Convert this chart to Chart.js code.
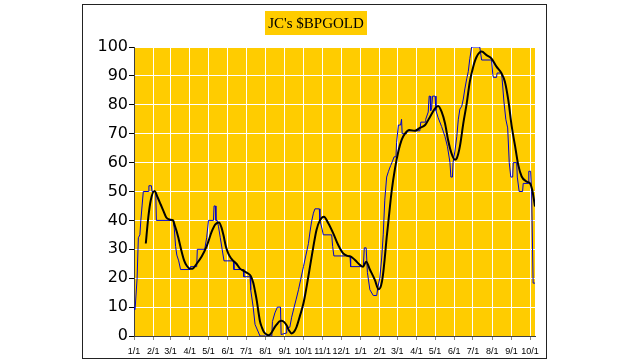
<!DOCTYPE html>
<html>
<head>
<meta charset="utf-8">
<script src="https://cdn.jsdelivr.net/npm/chart.js@4/dist/chart.umd.min.js"></script>
<style>
  html, body { margin: 0; padding: 0; background: #ffffff; }
  canvas { display: block; }
</style>
</head>
<body>
<canvas id="c" width="630" height="364"></canvas>
<script>
// ---- Title ----
const chartTitle = "JC's $BPGOLD";

// ---- X axis: month tick positions (days from first 1/1) and labels ----
const monthDays = [0, 31, 59, 90, 120, 151, 181, 212, 243, 273, 304, 334,
                   365, 396, 424, 455, 485, 516, 546, 577, 608, 638];
const monthLabels = ['1/1', '2/1', '3/1', '4/1', '5/1', '6/1', '7/1', '8/1', '9/1', '10/1', '11/1', '12/1',
                     '1/1', '2/1', '3/1', '4/1', '5/1', '6/1', '7/1', '8/1', '9/1', '10/1'];
const lastDay = 646;

// ---- Y axis ticks ----
const yTicks = [0, 10, 20, 30, 40, 50, 60, 70, 80, 90, 100];

// ---- Blue series: $BPGOLD (day, value) ----
const bpDays = [
  0, 1, 2, 3, 5, 7, 9.5, 11, 13, 15,
  23, 24, 28, 29, 35, 36, 63, 65, 67, 69,
  72, 75, 90, 91, 101, 102, 114, 117, 120, 128,
  129, 131, 132, 134, 136, 139, 142, 145, 160, 161,
  176, 177, 187, 188, 192, 195, 203, 222, 223, 227,
  231, 236, 237, 245, 246, 251, 254, 258, 261, 265,
  268.5, 273, 277, 281, 283.5, 286, 289, 291.5, 298.5, 299.5,
  303, 305, 318.5, 320, 322, 348, 349, 369.5, 371, 374,
  376, 380, 385.5, 391, 393, 396, 399, 401.5, 404, 407,
  410, 413.5, 416.5, 419, 422, 423, 426, 429.5, 431, 432,
  439, 440, 460.5, 462, 469, 470, 474, 475.5, 477, 478,
  479.5, 481, 485, 486.5, 490, 495.5, 501, 505, 509, 510.5,
  513, 514, 517, 520, 522.5, 525, 528, 530.5, 533, 536,
  538.5, 541, 544, 557, 560, 576, 578, 579, 584, 585,
  592, 593, 596, 599, 602, 604.5, 607, 610, 611, 616.5,
  617.5, 620.5, 626, 627, 635, 636, 639, 640.5, 643, 646
];
const bpValues = [
  10, 9, 10, 10, 20, 34, 35, 40, 45, 50,
  50, 52, 52, 50, 50, 40, 40, 37, 31, 28,
  26, 23, 23, 24, 24, 30, 30, 34, 40, 40,
  45, 45, 40, 40, 38, 34, 30, 26, 26, 23,
  23, 20.5, 20.5, 16, 10, 4, 0, 0, 5, 8,
  10, 10, 0.5, 1, 3, 3, 6.5, 10, 12.5, 16,
  19.5, 24, 28, 32, 36, 39.5, 42.5, 44, 44, 40,
  37, 35, 35, 31, 27.7, 27.7, 24, 24, 30.5, 30.5,
  22, 16, 14, 14, 17, 20, 27, 35, 47, 55,
  57, 59, 60.5, 62, 62, 67, 73, 73, 75, 70,
  70, 71, 71, 74, 74, 75, 77.5, 83, 83, 78,
  79, 83, 83, 78, 75.5, 72.5, 69, 65.5, 60, 55,
  55, 60, 64, 69, 75, 78.5, 79.5, 82, 85.5, 89,
  91.5, 96, 100, 100, 95.5, 95.5, 90.5, 89.5, 89.5, 91,
  91, 89, 81, 75, 72, 60, 55, 55, 60, 60,
  55, 50, 50, 52.8, 52.8, 57, 57, 50, 18.3, 18.3
];

// ---- Black series: smoothed average (day, value) ----
const maDays = [
  19, 23, 27, 33, 38, 43, 47, 52, 57, 63,
  66, 69, 72, 77, 81, 85, 90, 94, 101, 109,
  117, 125, 131, 137, 141, 144, 148, 152, 156, 160,
  165, 170, 176, 184, 188, 192, 195, 198, 200, 203,
  206, 209, 213, 217, 222, 226, 230, 234, 238, 242,
  246, 250, 254, 258, 262, 267, 273, 278, 283.5, 289,
  294, 299.5, 306, 313, 321, 329, 337, 344, 350, 356,
  364, 369, 374, 380, 388, 394, 398, 401, 404, 407,
  410, 415, 420.5, 426, 431, 436.5, 443.5, 452.5, 460.5, 469,
  477, 485, 490, 495.5, 501, 506, 511.5, 517, 520, 525,
  530.5, 536, 541, 546.5, 552, 560, 568, 576, 584, 592,
  597.5, 603, 608.5, 614, 619, 624.5, 632.5, 638, 641.5, 646
];
const maValues = [
  32, 41, 47, 50.2, 48, 45.5, 43.5, 41, 40.3, 40,
  38, 36, 33.5, 29, 26, 24.3, 23.3, 23.3, 25, 27.5,
  31, 36, 38.6, 39.3, 37.5, 35, 31, 28.5, 27, 26,
  25, 23.5, 22.6, 21.6, 20.8, 18.5, 15.5, 12, 9, 5,
  3, 1.5, 0.6, 0.3, 1.3, 2.8, 4, 5, 5.3, 4.8,
  3.6, 1.8, 0.9, 1.5, 3.2, 6.7, 11.3, 17, 24, 31,
  36.7, 40, 41.3, 39, 35.5, 31.5, 28.6, 27.7, 27.4, 26.3,
  24.6, 24, 25.7, 23, 19.4, 16.2, 17.5, 21, 27, 34,
  40, 50, 58, 64, 67.8, 70, 71.3, 71, 72, 73,
  75.9, 78.8, 79.6, 77.6, 73.6, 67.8, 63.2, 61, 61.5, 65.6,
  73.6, 80.5, 88, 93.2, 96.6, 98.4, 97.2, 96, 93.2, 90.9,
  88, 81.6, 72.5, 65.6, 59.2, 55.2, 53.4, 52.8, 50.6, 44.8
];

const bpData = bpDays.map((d, i) => ({ x: d, y: bpValues[i] }));
const maData = maDays.map((d, i) => ({ x: d, y: maValues[i] }));

const YELLOW = '#FFCC00';

const decorPlugin = {
  id: 'decor',
  beforeDraw(chart) {
    const ctx = chart.ctx;
    const a = chart.chartArea;
    ctx.save();
    ctx.fillStyle = '#ffffff';
    ctx.fillRect(0, 0, chart.width, chart.height);
    // outer frame
    ctx.strokeStyle = '#222222';
    ctx.lineWidth = 1;
    ctx.strokeRect(82.5, 4.5, 464, 354);
    // plot background
    ctx.fillStyle = YELLOW;
    ctx.fillRect(a.left, a.top, a.right - a.left, a.bottom - a.top);
    // title box + text
    ctx.font = "15px 'Liberation Serif', 'Times New Roman', serif";
    const tw = ctx.measureText(chartTitle).width;
    const cx = 316, cy = 23;
    ctx.fillStyle = YELLOW;
    ctx.fillRect(Math.round(cx - tw / 2 - 3), 11, Math.round(tw + 6), 24);
    ctx.fillStyle = '#000000';
    ctx.textAlign = 'center';
    ctx.textBaseline = 'middle';
    ctx.fillText(chartTitle, cx, cy + 1);
    ctx.restore();
  }
};

new Chart(document.getElementById('c'), {
  type: 'line',
  data: {
    datasets: [
      {
        label: 'Average',
        data: maData,
        borderColor: '#000000',
        borderWidth: 2,
        pointRadius: 0,
        cubicInterpolationMode: 'monotone',
        fill: false
      },
      {
        label: '$BPGOLD',
        data: bpData,
        borderColor: '#0000CC',
        borderWidth: 1,
        pointRadius: 0,
        tension: 0,
        fill: false
      }
    ]
  },
  options: {
    responsive: false,
    animation: false,
    devicePixelRatio: 1,
    layout: { padding: { left: 82, right: 95, top: 47, bottom: 5 } },
    plugins: {
      legend: { display: false },
      title: { display: false },
      tooltip: { enabled: false }
    },
    scales: {
      x: {
        type: 'linear',
        min: 0,
        max: lastDay,
        afterBuildTicks(scale) {
          scale.ticks = monthDays.map(v => ({ value: v }));
        },
        afterFit(scale) { scale.height = 23; },
        ticks: {
          autoSkip: false,
          maxRotation: 0,
          minRotation: 0,
          padding: 6,
          color: '#000000',
          font: { family: "'Liberation Sans', Arial, sans-serif", size: 9 },
          callback(value) {
            const i = monthDays.indexOf(value);
            return i >= 0 ? monthLabels[i] : '';
          }
        },
        grid: {
          color: '#ffffff',
          lineWidth: 1,
          tickColor: '#888888',
          tickLength: 4
        },
        border: { color: '#404040', width: 1 }
      },
      y: {
        min: 0,
        max: 100,
        afterBuildTicks(scale) {
          scale.ticks = yTicks.map(v => ({ value: v }));
        },
        afterFit(scale) { scale.width = 52; },
        ticks: {
          padding: 1,
          color: '#000000',
          font: { family: "'DejaVu Sans', sans-serif", size: 16 }
        },
        grid: {
          color: '#ffffff',
          lineWidth: 1,
          tickColor: '#000000',
          tickLength: 5
        },
        border: { color: '#404040', width: 1 }
      }
    }
  },
  plugins: [decorPlugin]
});
</script>
</body>
</html>
